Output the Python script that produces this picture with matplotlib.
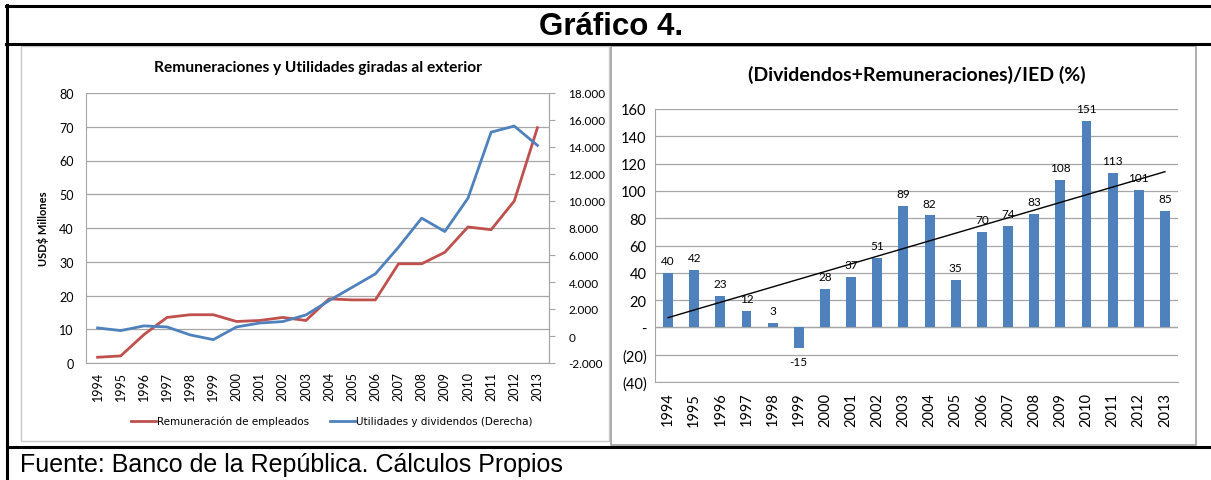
import matplotlib
matplotlib.use("Agg")
import matplotlib.pyplot as plt
from matplotlib.patches import Rectangle
from matplotlib.ticker import FuncFormatter
import numpy as np

# data
years = [str(y) for y in range(1994, 2014)]
remuneracion = [1.7, 2.1, 8.4, 13.5, 14.3, 14.3, 12.3, 12.6, 13.5, 12.6,
                19.0, 18.7, 18.7, 29.4, 29.4, 32.8, 40.3, 39.5, 48.0, 69.7]
utilidades = [600, 400, 750, 670, 80, -270, 670, 960, 1070, 1560,
              2620, 3610, 4600, 6580, 8730, 7740, 10210, 15100, 15550, 14120]
ratio = [40, 42, 23, 12, 3, -15, 28, 37, 51, 89,
         82, 35, 70, 74, 83, 108, 151, 113, 101, 85]

W, H = 1211, 481
RED = '#c0504d'
BLUE = '#4f81bd'
GRID = '#a6a6a6'
FONT = ['Lato', 'DejaVu Sans']

plt.rcParams['font.family'] = FONT


def box(x0, y0, x1, y1):
    """pixel box (top-left origin) -> figure fraction rect"""
    return [x0 / W, 1 - y1 / H, (x1 - x0) / W, (y1 - y0) / H]


fig = plt.figure(figsize=(W / 100, H / 100), dpi=100)

# background frame (table cell borders + chart borders)
bg = fig.add_axes([0, 0, 1, 1], zorder=0)
bg.set_xlim(0, W)
bg.set_ylim(H, 0)
bg.axis('off')
bg.plot([6, W], [7, 7], color='black', lw=2.2)
bg.plot([6, W], [45, 45], color='black', lw=2.2)
bg.plot([7, 7], [6, H], color='black', lw=2.2)
bg.plot([7, W], [448, 448], color='black', lw=2.2)
bg.add_patch(Rectangle((21, 47), 588, 395, fill=False, ec='#c8c8c8', lw=1))
bg.add_patch(Rectangle((611, 47), 585, 399, fill=False, ec='#a0a0a0', lw=1.2))
bg.text(611, 27, 'Gráfico 4.', ha='center', va='center', fontsize=22.5,
        fontweight='bold', family='Liberation Sans')
bg.text(20, 465, 'Fuente: Banco de la República. Cálculos Propios', ha='left',
        va='center', fontsize=18, family='Liberation Sans')

x = np.arange(len(years))

# ---- left chart: lines with twin axis
ax1 = fig.add_axes(box(86, 94, 549, 364), zorder=2)
ax1.set_facecolor('none')
ax1.plot(x, remuneracion, color=RED, lw=2.0, label='Remuneración de empleados', zorder=3)
ax1.set_xlim(-0.5, len(years) - 0.5)
ax1.set_ylim(0, 80)
ax1.set_yticks(range(0, 81, 10))
ax1.grid(axis='y', color=GRID, lw=0.9)
ax1.set_axisbelow(True)
ax1.set_xticks(x)
ax1.set_xticklabels(years, rotation=90, fontsize=9)
ax1.tick_params(axis='x', length=0, pad=6)
ax1.tick_params(axis='y', labelsize=9, length=0, pad=9)
ax1.set_ylabel('USD$ Millones', fontsize=8, fontweight='bold', labelpad=7)
ax1.spines['top'].set_visible(False)
for s in ['left', 'bottom', 'right']:
    ax1.spines[s].set_color(GRID)

ax2 = ax1.twinx()
ax2.plot(x, utilidades, color=BLUE, lw=2.0, label='Utilidades y dividendos (Derecha)', zorder=3)
ax2.set_ylim(-2000, 18000)
ax2.set_yticks(range(-2000, 18001, 2000))
ax2.yaxis.set_major_formatter(FuncFormatter(lambda v, p: f'{int(v):,}'.replace(',', '.')))
ax2.tick_params(axis='y', labelsize=8.5, length=4, color=GRID, pad=10)
for s in ['top', 'left', 'bottom']:
    ax2.spines[s].set_visible(False)
ax2.spines['right'].set_color(GRID)

ax1.set_title('Remuneraciones y Utilidades giradas al exterior', fontsize=11.2,
              fontweight='bold', pad=16, x=0.5)

h1, l1 = ax1.get_legend_handles_labels()
h2, l2 = ax2.get_legend_handles_labels()
fig.legend(h1 + h2, l1 + l2, loc='center', bbox_to_anchor=(332 / W, 1 - 422 / H),
           ncol=2, frameon=False, handlelength=2.4, handletextpad=0.1,
           columnspacing=2.0, prop={'family': 'DejaVu Sans', 'size': 7.5})

# ---- right chart: bars with data labels and linear trend
ax3 = fig.add_axes(box(655, 110, 1178, 383), zorder=2)
ax3.bar(x, ratio, width=0.38, color=BLUE, zorder=3)
coef = np.polyfit(x, ratio, 1)
ax3.plot(x, np.polyval(coef, x), color='black', lw=1.0, zorder=4)
for xi, v in zip(x, ratio):
    if v >= 0:
        ax3.annotate(str(v), (xi, v), xytext=(0, 5), textcoords='offset points',
                     ha='center', va='bottom', fontsize=8.5, zorder=5)
    else:
        ax3.annotate(str(v), (xi, v), xytext=(0, -6), textcoords='offset points',
                     ha='center', va='top', fontsize=8.5, zorder=5)
ax3.set_xlim(-0.5, len(ratio) - 0.5)
ax3.set_ylim(-40, 160)
ax3.set_yticks(range(-40, 161, 20))


def paren(v, p):
    v = int(round(v))
    if v == 0:
        return '-'
    if v < 0:
        return f'({-v})'
    return str(v)


ax3.yaxis.set_major_formatter(FuncFormatter(paren))
ax3.grid(axis='y', color=GRID, lw=0.9)
ax3.axhline(0, color=GRID, lw=0.9, zorder=2)
ax3.set_axisbelow(True)
ax3.set_xticks(x)
ax3.set_xticklabels(years, rotation=90, fontsize=10.5)
ax3.tick_params(axis='x', length=0, pad=7)
ax3.tick_params(axis='y', labelsize=10.5, length=0, pad=6)
for s in ['top', 'right']:
    ax3.spines[s].set_visible(False)
for s in ['left', 'bottom']:
    ax3.spines[s].set_color(GRID)
ax3.set_title('(Dividendos+Remuneraciones)/IED (%)', fontsize=14,
              fontweight='bold', pad=21, x=0.5)

fig.savefig('out.png', dpi=100)
